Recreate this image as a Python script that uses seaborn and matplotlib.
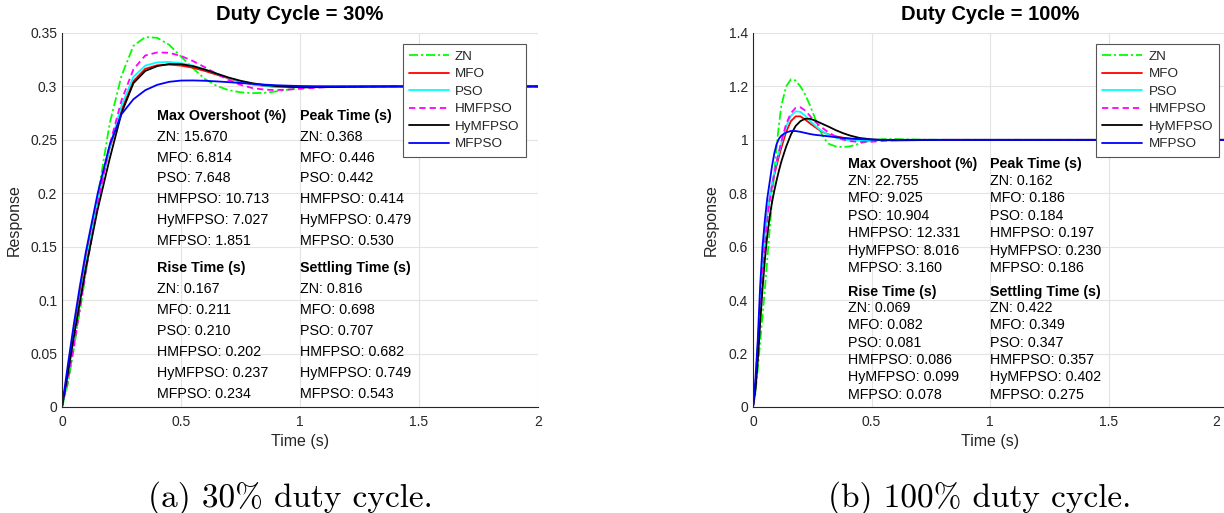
import numpy as np
import pandas as pd
import matplotlib
matplotlib.use("Agg")
import matplotlib.pyplot as plt
import matplotlib.transforms as mtransforms
import seaborn as sns

# ---------------- data ----------------
methods = ["ZN", "MFO", "PSO", "HMFPSO", "HyMFPSO", "MFPSO"]

# 30 % duty cycle
t30 = [0, 0.025, 0.05, 0.075, 0.1, 0.15, 0.2, 0.25, 0.3, 0.35, 0.4, 0.45, 0.5, 0.55,
       0.6, 0.65, 0.7, 0.75, 0.8, 0.85, 0.9, 0.95, 1.0, 1.1, 1.2, 1.4, 1.6, 2.0]
zn30 = [0, 0.022, 0.055, 0.09, 0.125, 0.197, 0.265, 0.31, 0.338, 0.3462, 0.3455, 0.339, 0.328, 0.317,
        0.307, 0.3005, 0.2965, 0.2945, 0.2937, 0.294, 0.2953, 0.297, 0.2985, 0.2998, 0.3, 0.3, 0.3, 0.3]
mfo30 = [0, 0.033, 0.07, 0.105, 0.138, 0.195, 0.242, 0.278, 0.305, 0.3165, 0.3198, 0.3204, 0.3195, 0.3175,
         0.3145, 0.311, 0.3075, 0.3045, 0.302, 0.3005, 0.2996, 0.2993, 0.2994, 0.2997, 0.3, 0.3, 0.3, 0.3]
pso30 = [0, 0.03, 0.066, 0.1, 0.134, 0.193, 0.243, 0.282, 0.309, 0.3195, 0.3225, 0.3229, 0.3218, 0.3195,
         0.316, 0.312, 0.308, 0.3048, 0.3023, 0.3007, 0.2998, 0.2994, 0.2994, 0.2997, 0.3, 0.3, 0.3, 0.3]
hmfpso30 = [0, 0.025, 0.057, 0.092, 0.127, 0.19, 0.245, 0.287, 0.316, 0.329, 0.3318, 0.3315, 0.3285, 0.3238,
            0.318, 0.3118, 0.306, 0.3015, 0.2985, 0.297, 0.2966, 0.297, 0.2978, 0.2992, 0.2998, 0.3, 0.3, 0.3]
hymfpso30 = [0, 0.032, 0.066, 0.098, 0.13, 0.185, 0.232, 0.275, 0.303, 0.3145, 0.319, 0.321, 0.3208, 0.319,
             0.3158, 0.312, 0.3083, 0.3053, 0.303, 0.3013, 0.3003, 0.2996, 0.2993, 0.2993, 0.2996, 0.3, 0.3, 0.3]
mfpso30 = [0, 0.04, 0.078, 0.113, 0.145, 0.2, 0.245, 0.274, 0.288, 0.2965, 0.3015, 0.3043, 0.3055, 0.3056,
           0.3053, 0.3047, 0.304, 0.3032, 0.3024, 0.3017, 0.3011, 0.3007, 0.3004, 0.3001, 0.3, 0.3, 0.3, 0.3]

# 100 % duty cycle
t100 = [0, 0.01, 0.02, 0.03, 0.04, 0.05, 0.06, 0.07, 0.08, 0.09, 0.1, 0.11, 0.12, 0.14, 0.16, 0.18,
        0.2, 0.22, 0.24, 0.26, 0.28, 0.3, 0.32, 0.35, 0.38, 0.41, 0.45, 0.5, 0.55, 0.6, 0.7, 0.8, 1.0, 1.5, 2.0]
zn100 = [0, 0.05, 0.14, 0.24, 0.34, 0.44, 0.55, 0.66, 0.77, 0.88, 0.98, 1.06, 1.13, 1.2, 1.227, 1.222,
         1.2, 1.17, 1.13, 1.085, 1.04, 1.005, 0.985, 0.975, 0.973, 0.976, 0.986, 0.998, 1.003, 1.003, 1.001, 1.0, 1.0, 1.0, 1.0]
mfo100 = [0, 0.08, 0.22, 0.38, 0.53, 0.64, 0.72, 0.78, 0.83, 0.87, 0.905, 0.94, 0.972, 1.03, 1.07, 1.088,
          1.088, 1.076, 1.062, 1.049, 1.037, 1.027, 1.02, 1.013, 1.008, 1.004, 1.001, 0.999, 0.999, 1.0, 1.0, 1.0, 1.0, 1.0, 1.0]
pso100 = [0, 0.08, 0.22, 0.38, 0.525, 0.635, 0.718, 0.782, 0.835, 0.88, 0.92, 0.955, 0.99, 1.05, 1.09, 1.107,
          1.105, 1.09, 1.072, 1.055, 1.04, 1.028, 1.018, 1.008, 1.002, 0.998, 0.997, 0.998, 0.999, 1.0, 1.0, 1.0, 1.0, 1.0, 1.0]
hmfpso100 = [0, 0.07, 0.2, 0.36, 0.5, 0.61, 0.7, 0.77, 0.825, 0.875, 0.92, 0.958, 0.995, 1.06, 1.1, 1.12,
             1.122, 1.11, 1.09, 1.07, 1.054, 1.04, 1.027, 1.012, 1.001, 0.995, 0.992, 0.993, 0.996, 0.999, 1.0, 1.0, 1.0, 1.0, 1.0]
hymfpso100 = [0, 0.06, 0.17, 0.31, 0.44, 0.55, 0.64, 0.71, 0.765, 0.81, 0.85, 0.887, 0.92, 0.975, 1.02, 1.052,
              1.07, 1.079, 1.079, 1.073, 1.065, 1.057, 1.049, 1.036, 1.025, 1.016, 1.007, 1.002, 0.999, 0.998, 0.999, 1.0, 1.0, 1.0, 1.0]
mfpso100 = [0, 0.1, 0.25, 0.45, 0.6, 0.7, 0.78, 0.84, 0.9, 0.95, 0.985, 1.005, 1.016, 1.028, 1.033, 1.033,
            1.03, 1.026, 1.022, 1.019, 1.017, 1.015, 1.013, 1.01, 1.007, 1.005, 1.003, 1.001, 1.0, 1.0, 1.0, 1.0, 1.0, 1.0, 1.0]

# performance indices shown as text
overshoot30 = [15.670, 6.814, 7.648, 10.713, 7.027, 1.851]
peak30 = [0.368, 0.446, 0.442, 0.414, 0.479, 0.530]
rise30 = [0.167, 0.211, 0.210, 0.202, 0.237, 0.234]
settle30 = [0.816, 0.698, 0.707, 0.682, 0.749, 0.543]
overshoot100 = [22.755, 9.025, 10.904, 12.331, 8.016, 3.160]
peak100 = [0.162, 0.186, 0.184, 0.197, 0.230, 0.186]
rise100 = [0.069, 0.082, 0.081, 0.086, 0.099, 0.078]
settle100 = [0.422, 0.349, 0.347, 0.357, 0.402, 0.275]

xticks = [0, 0.5, 1, 1.5, 2]
xticklabels = ["0", "0.5", "1", "1.5", "2"]
yticks30 = [0, 0.05, 0.1, 0.15, 0.2, 0.25, 0.3, 0.35]
yticklabels30 = ["0", "0.05", "0.1", "0.15", "0.2", "0.25", "0.3", "0.35"]
yticks100 = [0, 0.2, 0.4, 0.6, 0.8, 1.0, 1.2, 1.4]
yticklabels100 = ["0", "0.2", "0.4", "0.6", "0.8", "1", "1.2", "1.4"]

titles = ["Duty Cycle = 30%", "Duty Cycle = 100%"]
captions = ["(a) 30% duty cycle.", "(b) 100% duty cycle."]
headers = ["Max Overshoot (%)", "Peak Time (s)", "Rise Time (s)", "Settling Time (s)"]

# ---------------- style ----------------
sns.set_theme(style="white")
plt.rcParams["font.family"] = ["Liberation Sans", "DejaVu Sans"]

palette = {"ZN": "#00ff00", "MFO": "#ff0000", "PSO": "#00ffff",
           "HMFPSO": "#ff00ff", "HyMFPSO": "#000000", "MFPSO": "#0000ff"}
dashes = {"ZN": (5, 1.6, 1.2, 1.6), "MFO": "", "PSO": "", "HMFPSO": (3.5, 2.2),
          "HyMFPSO": "", "MFPSO": ""}

def long_frame(t, series):
    rows = []
    for m, vals in zip(methods, series):
        rows.append(pd.DataFrame({"Time": t, "Response": vals, "method": m}))
    return pd.concat(rows, ignore_index=True)

df30 = long_frame(t30, [zn30, mfo30, pso30, hmfpso30, hymfpso30, mfpso30])
df100 = long_frame(t100, [zn100, mfo100, pso100, hmfpso100, hymfpso100, mfpso100])

W, H = 1224, 513
fig = plt.figure(figsize=(W / 100, H / 100), dpi=100)
ax1 = fig.add_axes([62 / W, (H - 407) / H, 476 / W, 374 / H])
ax2 = fig.add_axes([753 / W, (H - 407) / H, 474 / W, 374 / H])

axis_col = "#262626"

def draw(ax, df, yticks, yticklabels, ylim, title, stats, layout, leg_anchor, ylab_x):
    sns.lineplot(data=df, x="Time", y="Response", hue="method", style="method",
                 hue_order=methods, style_order=methods, palette=palette, dashes=dashes,
                 estimator=None, errorbar=None, linewidth=1.3, ax=ax)
    ax.set_xlim(0, 2)
    ax.set_ylim(*ylim)
    ax.set_xticks(xticks)
    ax.set_xticklabels(xticklabels)
    ax.set_yticks(yticks)
    ax.set_yticklabels(yticklabels)
    ax.grid(True, color="#e3e3e3", linewidth=0.8)
    ax.set_axisbelow(True)
    for s in ["top", "right"]:
        ax.spines[s].set_visible(False)
    for s in ["left", "bottom"]:
        ax.spines[s].set_color(axis_col)
        ax.spines[s].set_linewidth(0.8)
    ax.tick_params(axis="both", direction="in", length=4, width=0.8, colors=axis_col, labelsize=10)
    ax.tick_params(axis="x", pad=6)
    ax.tick_params(axis="y", pad=3.5)
    ax.set_title(title, fontsize=14.5, fontweight="bold", pad=9, color="#000000")
    ax.set_xlabel("Time (s)", fontsize=11.5, color=axis_col)
    ax.set_ylabel("Response", fontsize=11.5, color=axis_col)
    ax.xaxis.set_label_coords(0.5, -0.072)
    ax.yaxis.set_label_coords(ylab_x, 0.5)

    handles, labels = ax.get_legend_handles_labels()
    leg = ax.legend(handles, labels, loc="upper right", bbox_to_anchor=leg_anchor,
                    borderaxespad=0, fontsize=9.7, handlelength=3.0, handletextpad=0.45,
                    labelspacing=0.38, borderpad=0.45, frameon=True, fancybox=False,
                    edgecolor="#555555", framealpha=1)
    leg.get_frame().set_linewidth(0.8)

    trans = mtransforms.blended_transform_factory(ax.transData, ax.transAxes)
    h1, r1, h2, r2, step = layout
    cols = [0.40, 1.0]
    blocks = [(h1, r1, 0), (h1, r1, 1), (h2, r2, 2), (h2, r2, 3)]
    for hy, ry, k in blocks:
        x = cols[k % 2]
        ax.text(x, hy, headers[k], transform=trans, fontsize=10.3, fontweight="bold",
                ha="left", va="center", color="#000000")
        for i, m in enumerate(methods):
            ax.text(x, ry - i * step, f"{m}: {stats[k][i]:.3f}", transform=trans,
                    fontsize=10.3, ha="left", va="center", color="#000000")

draw(ax1, df30, yticks30, yticklabels30, (0, 0.35), titles[0],
     [overshoot30, peak30, rise30, settle30],
     (0.778, 0.723, 0.372, 0.3155, 0.0559), (0.974, 0.970), -0.084)
draw(ax2, df100, yticks100, yticklabels100, (0, 1.4), titles[1],
     [overshoot100, peak100, rise100, settle100],
     (0.650, 0.604, 0.3075, 0.265, 0.0465), (0.983, 0.970), -0.0717)

# the right panel runs to the figure edge: keep its last tick label inside the picture
last = ax2.xaxis.get_major_ticks()[-1].label1
last.set_horizontalalignment("right")
last.set_transform(last.get_transform() +
                   mtransforms.ScaledTranslation(-5 / 72, 0, fig.dpi_scale_trans))

fig.text(290 / W, 1 - 498 / H, captions[0], family=["cmr10", "DejaVu Serif"], fontsize=24,
         ha="center", va="center", color="#000000")
fig.text(980 / W, 1 - 498 / H, captions[1], family=["cmr10", "DejaVu Serif"], fontsize=24,
         ha="center", va="center", color="#000000")

fig.savefig("out.png", dpi=100)
